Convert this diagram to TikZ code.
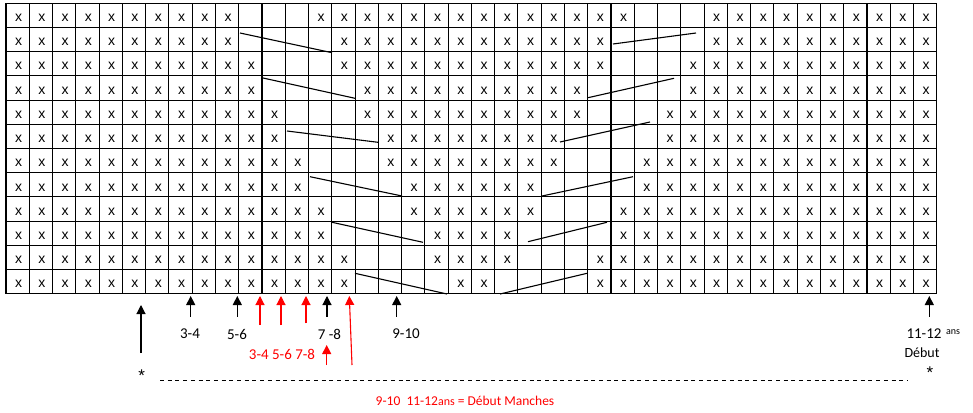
\documentclass[tikz,border=0pt]{standalone}
\usepackage{fontspec}
\setmainfont{Carlito}
\newfontfamily\gridfont{Liberation Sans}
\usepackage{tikz}
\usetikzlibrary{positioning}
\usetikzlibrary{arrows.meta}
\usepackage{xcolor}

\tikzset{
  gridline/.style={black, line width=1.1pt, line cap=rect},
  maille/.style={font=\gridfont\fontsize{14}{14}\selectfont, inner sep=0pt, xshift=1pt, yshift=-2.5pt},
  diminution/.style={black, line width=1.1pt},
  fleche/.style={-{Triangle[width=9pt,length=9pt]}, line width=1.1pt},
  taille/.style={font=\fontsize{15}{15}\selectfont, inner sep=0pt},
  etoile/.style={font=\gridfont\fontsize{17}{17}\selectfont, inner sep=0pt},
}

\begin{document}
\begin{tikzpicture}[x=1pt,y=-1pt]
\useasboundingbox (0,0) rectangle (973,412);

% grille
\begin{scope}[shift={(6,3.3)}, x=23.27pt, y=-24.2pt]{
\foreach \c in {0,...,40} \draw[gridline] (\c,0) -- (\c,12);
\foreach \r in {0,...,12} \draw[gridline] (0,\r) -- (40,\r);

% mailles : rang / fin gauche / debut milieu / fin milieu / debut droite
\foreach \r/\b/\cc/\d/\e in {1/10/14/27/31, 2/10/15/26/31, 3/11/15/26/30,
  4/11/16/25/30, 5/12/16/25/29, 6/12/17/24/29, 7/13/17/24/28, 8/13/18/23/28,
  9/14/18/23/27, 10/14/19/22/27, 11/15/19/22/26, 12/15/20/21/26}{
  \foreach \c in {1,...,\b} \node[maille] (m-\r-\c) at (\c-0.5,\r-0.5) {x};
  \foreach \c in {\cc,...,\d} \node[maille] (m-\r-\c) at (\c-0.5,\r-0.5) {x};
  \foreach \c in {\e,...,40} \node[maille] (m-\r-\c) at (\c-0.5,\r-0.5) {x};
}
} \end{scope}

% diminutions
\draw[diminution] (240,33) -- (332,52.7);
\draw[diminution] (613,44) -- (696,33);
\draw[diminution] (263,78) -- (355,98.3);
\draw[diminution] (588,97.7) -- (674,78.3);
\draw[diminution] (287,131) -- (378,142.3);
\draw[diminution] (560,142) -- (650,122);
\draw[diminution] (310,176.7) -- (402,196);
\draw[diminution] (542,196) -- (633,176.7);
\draw[diminution] (332,222.3) -- (423,242.3);
\draw[diminution] (528,241.7) -- (607,222.3);
\draw[diminution] (355,273.3) -- (447,294);
\draw[diminution] (500,294) -- (587,273.3);

% fleches noires
\foreach \n/\x/\ya/\yb in {a/141/353/305, b34/190.7/316.7/296, b56/237.3/316.7/296,
  b78/327/316.7/296, b910/396.7/316.7/296, b1112/929.3/316.7/296}{
  \coordinate (q\n) at (\x,\ya);
  \coordinate (p\n) at (\x,\yb);
  \draw[fleche] (q\n) -- (p\n);
}

% fleches rouges
\foreach \n/\x/\ya/\yb in {r1/260/325/296, r2/281/325/296, r3/306/323.3/296, r5/326.7/365/345}{
  \coordinate (q\n) at (\x,\ya);
  \coordinate (p\n) at (\x,\yb);
  \draw[fleche, red] (q\n) -- (p\n);
}
\coordinate (qr4) at (352,365);
\coordinate (pr4) at (349.3,296);
\draw[fleche, red] (qr4) -- (pr4);

% nodes
{
\node[taille] (l34) at (190,334) {3-4};
\node[taille] (l56) at (237,334) {5-6};
\node[taille] (l78) at (329.5,334) {7 -8};
\node[taille] (l910) at (406,333.5) {9-10};
\node[taille] (l1112) at (924,333.5) {11-12};
\node[inner sep=0pt, font=\fontsize{10}{10}\selectfont] (lans) at (953,332) {ans};
\node[inner sep=0pt, font=\fontsize{14}{14}\selectfont] (ldebut) at (922,353) {Début};

\node[taille, red] (r3478) at (282,354) {3-4 5-6 7-8};
\node[inner sep=0pt, red, font=\fontsize{13.5}{13.5}\selectfont] (rbas) at (465,401)
  {9-10\ \ 11-12{\fontsize{12}{12}\selectfont ans} = Début Manches};

\node[etoile] (etg) at (141.7,376) {*};
\node[etoile] (etd) at (930,373) {*};
}

% pointilles
\coordinate (dg) at (160,380);
\coordinate (dd) at (907,380);
\draw[line width=0.9pt, dash pattern=on 4pt off 3.7pt] (dg) -- (dd);

\end{tikzpicture}
\end{document}
